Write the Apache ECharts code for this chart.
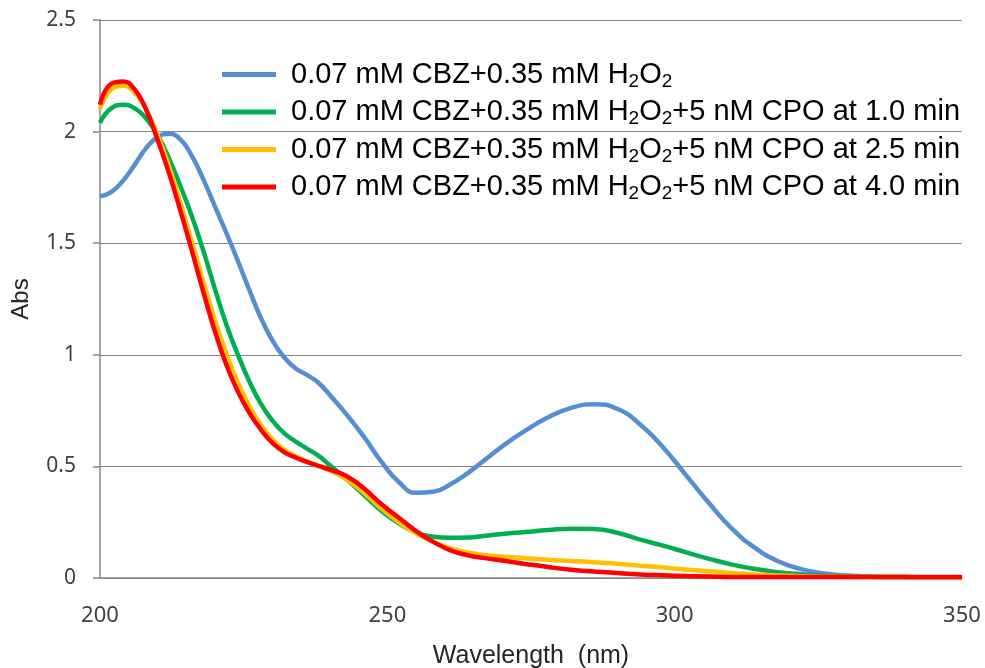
<!DOCTYPE html>
<html>
<head>
<meta charset="utf-8">
<script src="https://cdn.jsdelivr.net/npm/echarts@6/dist/echarts.min.js"></script>
<style>
html,body{margin:0;padding:0;background:#fff;}
#chart{width:985px;height:668px;}
</style>
</head>
<body>
<div id="chart"></div>
<script>
var wavelengths = [200,202,204,206,208,210,212,214,216,218,220,222,224,226,228,230,232,234,236,238,240,243,246,249,252,255,258,261,264,267,270,274,278,282,286,290,294,298,302,306,310,314,318,322,326,330,335,340,345,350];

var seriesNames = [
  '0.07 mM CBZ+0.35 mM H2O2',
  '0.07 mM CBZ+0.35 mM H2O2+5 nM CPO at 1.0 min',
  '0.07 mM CBZ+0.35 mM H2O2+5 nM CPO at 2.5 min',
  '0.07 mM CBZ+0.35 mM H2O2+5 nM CPO at 4.0 min'
];

var absCBZ = [1.71,1.73,1.78,1.85,1.925,1.975,1.99,1.965,1.89,1.785,1.665,1.545,1.42,1.29,1.165,1.065,0.99,0.94,0.91,0.875,0.82,0.73,0.63,0.52,0.43,0.382,0.386,0.42,0.47,0.53,0.59,0.66,0.72,0.762,0.779,0.758,0.688,0.585,0.46,0.335,0.22,0.135,0.075,0.04,0.02,0.011,0.006,0.004,0.003,0.003];

var abs10 = [2.04,2.105,2.12,2.105,2.06,1.985,1.88,1.755,1.62,1.465,1.295,1.135,1.0,0.88,0.78,0.705,0.65,0.612,0.58,0.548,0.505,0.44,0.37,0.30,0.245,0.205,0.185,0.18,0.181,0.189,0.197,0.206,0.215,0.221,0.219,0.203,0.172,0.145,0.115,0.086,0.06,0.04,0.026,0.017,0.011,0.007,0.005,0.004,0.003,0.003];

var abs25 = [2.10,2.19,2.205,2.175,2.10,1.985,1.845,1.68,1.505,1.325,1.155,1.005,0.875,0.77,0.685,0.62,0.575,0.547,0.522,0.502,0.482,0.44,0.38,0.31,0.25,0.20,0.162,0.133,0.114,0.103,0.096,0.089,0.082,0.076,0.071,0.064,0.055,0.047,0.038,0.03,0.022,0.016,0.011,0.008,0.006,0.005,0.004,0.004,0.003,0.003];

var abs40 = [2.12,2.215,2.225,2.19,2.10,1.965,1.815,1.645,1.465,1.28,1.105,0.955,0.835,0.74,0.665,0.605,0.565,0.54,0.52,0.502,0.486,0.455,0.40,0.33,0.27,0.21,0.162,0.124,0.102,0.089,0.078,0.063,0.049,0.037,0.029,0.022,0.016,0.012,0.009,0.007,0.005,0.005,0.005,0.005,0.005,0.005,0.005,0.005,0.005,0.005];

var xTicks = [200, 250, 300, 350];
var yTicks = [0, 0.5, 1, 1.5, 2, 2.5];

var colors = ['#558ED5', '#00B050', '#FFC000', '#FF0000'];
var allValues = [absCBZ, abs10, abs25, abs40];

function pairs(vals) {
  return wavelengths.map(function (w, i) { return [w, vals[i]]; });
}

var chart = echarts.init(document.getElementById('chart'), null, {renderer: 'canvas'});

var series = seriesNames.map(function (name, k) {
  return {
    name: name,
    type: 'line',
    data: pairs(allValues[k]),
    smooth: 0.5,
    showSymbol: false,
    symbol: 'none',
    lineStyle: {color: colors[k], width: 4.5},
    itemStyle: {color: colors[k]},
    z: 2 + k
  };
});

chart.setOption({
  animation: false,
  backgroundColor: '#ffffff',
  grid: {left: 100, right: 23, top: 20, bottom: 90, containLabel: false, outerBoundsMode: 'none'},
  legend: {
    orient: 'vertical',
    left: 217,
    top: 55,
    itemWidth: 54,
    itemHeight: 5,
    itemGap: 6.5,
    icon: 'rect',
    data: seriesNames,
    formatter: function (name) {
      var parts = name.split('H2O2');
      return '{m|' + parts[0] + 'H}{s|2}{m|O}{s|2}' + (parts[1] ? '{m|' + parts[1] + '}' : '');
    },
    textStyle: {
      padding: [0, 0, 0, 10],
      rich: {
        m: {fontFamily: 'Liberation Sans, Arial, sans-serif', fontSize: 29, color: '#000', lineHeight: 33},
        s: {fontFamily: 'Liberation Sans, Arial, sans-serif', fontSize: 19, color: '#000', lineHeight: 16, verticalAlign: 'bottom'}
      }
    }
  },
  xAxis: {
    type: 'value',
    min: 200,
    max: 350,
    interval: 50,
    name: 'Wavelength  (nm)',
    nameLocation: 'middle',
    nameGap: 66,
    nameTextStyle: {fontFamily: 'Liberation Sans, Arial, sans-serif', fontSize: 25, color: '#262626'},
    axisLine: {show: true, lineStyle: {color: '#868686', width: 1.5}},
    axisTick: {show: false},
    splitLine: {show: false},
    axisLabel: {
      margin: 27,
      fontFamily: 'Noto Sans, sans-serif',
      fontSize: 22,
      color: '#404040',
      formatter: function (v) { return xTicks.indexOf(v) >= 0 ? String(v) : ''; }
    }
  },
  yAxis: {
    type: 'value',
    min: 0,
    max: 2.5,
    interval: 0.5,
    name: 'Abs',
    nameLocation: 'middle',
    nameGap: 67,
    nameRotate: 90,
    nameTextStyle: {fontFamily: 'Liberation Sans, Arial, sans-serif', fontSize: 24, color: '#262626'},
    axisLine: {show: true, lineStyle: {color: '#868686', width: 1.5}},
    axisTick: {show: true, inside: false, length: 7, lineStyle: {color: '#868686', width: 1.5}},
    splitLine: {show: true, lineStyle: {color: '#868686', width: 1.2}},
    axisLabel: {
      margin: 24,
      fontFamily: 'Noto Sans, sans-serif',
      fontSize: 21,
      color: '#404040',
      formatter: function (v) { return yTicks.indexOf(v) >= 0 ? String(v) : ''; }
    }
  },
  series: series
});
</script>
</body>
</html>
